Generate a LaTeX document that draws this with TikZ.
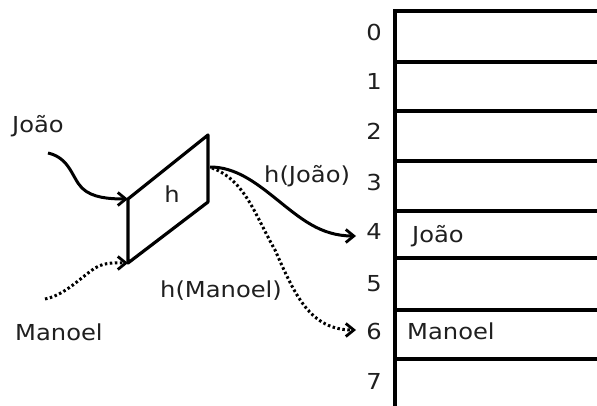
\documentclass[tikz,border=0pt]{standalone}
\usepackage{fontspec}
\setmainfont[FakeStretch=1.1]{DejaVu Sans}
\usetikzlibrary{arrows.meta}
\begin{document}
\begin{tikzpicture}[x=1pt,y=-1pt,
  lbl/.style={font=\fontsize{22}{26}\selectfont, inner sep=0pt, text=black!88},
  tline/.style={line width=3.8pt},
  conn/.style={line width=3pt, -{Straight Barb[length=8pt,width=13pt,line width=2.8pt]}},
  dconn/.style={conn, dash pattern=on 2.5pt off 2.5pt}]
\useasboundingbox (0,0) rectangle (597,406);
% table
\draw[tline] (395,11) -- (395,406);
\foreach \y in {11,62,111,161,211,258,310,359} \draw[tline] (393.1,\y) -- (597,\y);
\foreach \i/\y in {0/41,1/90,2/140,3/191,4/240,5/291,6/339,7/389}
  \node[lbl, anchor=base] (r\i) at (374,\y) {\i};
\node[lbl, anchor=base west] (cj) at (412,243) {João};
\node[lbl, anchor=base west] (cm) at (407,339) {Manoel};
% hash box
\coordinate (a) at (128,199);
\coordinate (b) at (208,135);
\coordinate (c) at (208,202);
\coordinate (d) at (128,263);
\draw[line width=3.2pt, line join=round] (a) -- (b) -- (c) -- (d) -- cycle;
\node[lbl, anchor=base] (h) at (172,203) {h};
% labels
\node[lbl, anchor=base west] (j) at (12,133) {João};
\node[lbl, anchor=base west] (m) at (15,340) {Manoel};
\node[lbl, anchor=base west] (hj) at (264,183) {h(João)};
\node[lbl, anchor=base west] (hm) at (160,297) {h(Manoel)};
% connectors
\coordinate (js) at (48,153);
\coordinate (ms) at (45,299);
\coordinate (o1) at (210,167);
\coordinate (o2) at (212,168);
\coordinate (t4) at (356,236);
\coordinate (t6) at (356,330);
\draw[conn] (js) .. controls (70,158) and (72,178) .. (82,188)
  .. controls (92,198) and (110,199) .. (a);
\draw[dconn] (ms) .. controls (65,295) and (80,278) .. (95,268)
  .. controls (105,262) and (115,263) .. (d);
\draw[conn] (o1) .. controls (235,167) and (255,182) .. (275,198)
  .. controls (300,218) and (320,236) .. (t4);
\draw[dconn] (o2) .. controls (245,180) and (255,215) .. (275,250)
  .. controls (295,295) and (310,330) .. (t6);
\end{tikzpicture}
\end{document}
